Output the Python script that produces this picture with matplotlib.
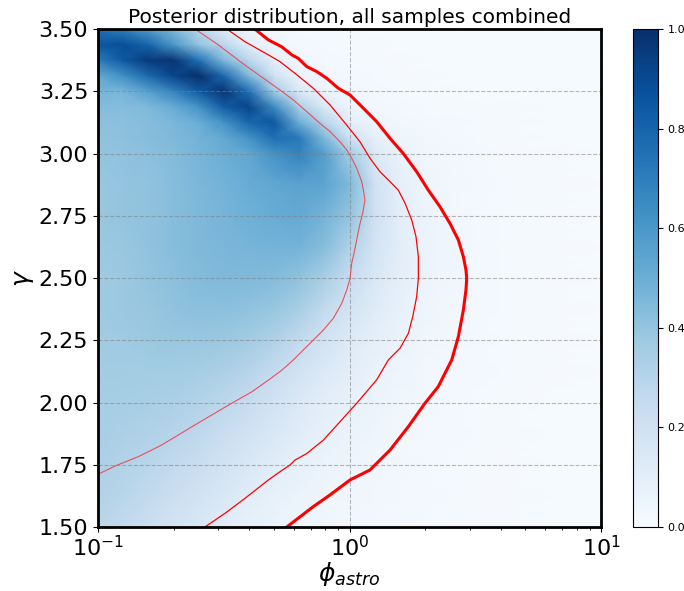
import numpy as np
import matplotlib
matplotlib.use("Agg")
import matplotlib.pyplot as plt

# grid of the posterior map: log10(phi_astro) columns, gamma rows
log_phi = [-1.0, -0.9, -0.8, -0.7, -0.6, -0.5, -0.4, -0.3, -0.2, -0.1,
           0.0, 0.1, 0.2, 0.3, 0.4, 0.5, 0.6, 0.8, 1.0]
gamma = [1.5, 1.625, 1.75, 1.875, 2.0, 2.125, 2.25, 2.375, 2.5, 2.625,
         2.75, 2.875, 3.0, 3.0625, 3.125, 3.1875, 3.25, 3.3125, 3.375,
         3.4375, 3.5]

posterior = [
    [0.29, 0.26, 0.22, 0.18, 0.15, 0.11, 0.08, 0.06, 0.045, 0.035, 0.03, 0.025, 0.02, 0.018, 0.015, 0.013, 0.012, 0.01, 0.01],
    [0.31, 0.29, 0.26, 0.22, 0.19, 0.15, 0.11, 0.08, 0.06, 0.045, 0.036, 0.03, 0.024, 0.02, 0.016, 0.014, 0.012, 0.01, 0.01],
    [0.33, 0.31, 0.29, 0.26, 0.23, 0.19, 0.15, 0.11, 0.08, 0.06, 0.045, 0.036, 0.028, 0.022, 0.018, 0.015, 0.013, 0.01, 0.01],
    [0.34, 0.33, 0.32, 0.30, 0.27, 0.23, 0.19, 0.15, 0.11, 0.08, 0.06, 0.045, 0.035, 0.027, 0.021, 0.017, 0.014, 0.01, 0.01],
    [0.35, 0.35, 0.34, 0.33, 0.31, 0.28, 0.24, 0.19, 0.14, 0.10, 0.075, 0.055, 0.04, 0.03, 0.023, 0.018, 0.015, 0.01, 0.01],
    [0.36, 0.36, 0.36, 0.36, 0.35, 0.33, 0.30, 0.25, 0.19, 0.14, 0.10, 0.07, 0.05, 0.035, 0.026, 0.02, 0.016, 0.012, 0.01],
    [0.37, 0.37, 0.38, 0.39, 0.39, 0.38, 0.36, 0.32, 0.26, 0.19, 0.13, 0.09, 0.06, 0.04, 0.03, 0.022, 0.017, 0.012, 0.01],
    [0.37, 0.38, 0.39, 0.41, 0.42, 0.42, 0.41, 0.39, 0.34, 0.26, 0.18, 0.12, 0.075, 0.048, 0.033, 0.024, 0.018, 0.012, 0.01],
    [0.37, 0.38, 0.40, 0.42, 0.44, 0.45, 0.45, 0.44, 0.41, 0.34, 0.24, 0.15, 0.09, 0.055, 0.036, 0.025, 0.018, 0.012, 0.01],
    [0.38, 0.39, 0.41, 0.43, 0.45, 0.46, 0.47, 0.48, 0.48, 0.43, 0.32, 0.18, 0.10, 0.058, 0.036, 0.025, 0.018, 0.012, 0.01],
    [0.39, 0.40, 0.41, 0.43, 0.45, 0.47, 0.49, 0.51, 0.52, 0.48, 0.40, 0.20, 0.10, 0.055, 0.034, 0.024, 0.017, 0.012, 0.01],
    [0.39, 0.40, 0.41, 0.43, 0.46, 0.48, 0.51, 0.53, 0.55, 0.54, 0.45, 0.20, 0.09, 0.048, 0.03, 0.022, 0.016, 0.012, 0.01],
    [0.40, 0.41, 0.42, 0.44, 0.47, 0.50, 0.53, 0.62, 0.68, 0.57, 0.36, 0.14, 0.07, 0.04, 0.028, 0.02, 0.015, 0.012, 0.01],
    [0.41, 0.415, 0.43, 0.45, 0.48, 0.52, 0.62, 0.76, 0.72, 0.45, 0.20, 0.09, 0.05, 0.032, 0.024, 0.018, 0.014, 0.011, 0.01],
    [0.42, 0.42, 0.43, 0.46, 0.50, 0.62, 0.79, 0.85, 0.50, 0.30, 0.10, 0.05, 0.032, 0.025, 0.02, 0.016, 0.013, 0.011, 0.01],
    [0.44, 0.43, 0.45, 0.51, 0.62, 0.83, 0.92, 0.65, 0.33, 0.14, 0.05, 0.03, 0.022, 0.018, 0.015, 0.013, 0.012, 0.01, 0.01],
    [0.47, 0.47, 0.56, 0.68, 0.84, 0.98, 0.75, 0.36, 0.14, 0.06, 0.03, 0.02, 0.016, 0.014, 0.012, 0.011, 0.01, 0.01, 0.01],
    [0.52, 0.63, 0.78, 0.92, 1.00, 0.78, 0.45, 0.20, 0.06, 0.035, 0.022, 0.016, 0.014, 0.012, 0.011, 0.01, 0.01, 0.01, 0.01],
    [0.71, 0.84, 0.96, 0.98, 0.75, 0.45, 0.28, 0.09, 0.035, 0.022, 0.016, 0.013, 0.012, 0.011, 0.01, 0.01, 0.01, 0.01, 0.01],
    [0.85, 0.88, 0.80, 0.60, 0.40, 0.28, 0.10, 0.04, 0.022, 0.016, 0.013, 0.012, 0.011, 0.01, 0.01, 0.01, 0.01, 0.01, 0.01],
    [0.76, 0.70, 0.58, 0.45, 0.30, 0.12, 0.05, 0.025, 0.017, 0.014, 0.012, 0.011, 0.01, 0.01, 0.01, 0.01, 0.01, 0.01, 0.01],
]

# credible-region outlines (phi_astro, gamma)
inner_phi = [0.102, 0.117, 0.145, 0.179, 0.243, 0.340, 0.409, 0.476, 0.537,
             0.598, 0.655, 0.718, 0.787, 0.862, 0.931, 0.975, 1.005, 1.020,
             1.042, 1.074, 1.101, 1.128, 1.152, 1.135, 1.118, 1.068, 1.020,
             0.975, 0.917, 0.837, 0.763, 0.676, 0.598, 0.529, 0.476, 0.384,
             0.301, 0.243]
inner_gamma = [1.716, 1.745, 1.783, 1.829, 1.910, 1.997, 2.043, 2.090, 2.129,
               2.171, 2.211, 2.251, 2.291, 2.338, 2.398, 2.452, 2.499, 2.559,
               2.599, 2.666, 2.719, 2.760, 2.813, 2.853, 2.887, 2.941, 2.981,
               3.014, 3.047, 3.088, 3.121, 3.168, 3.215, 3.255, 3.288, 3.355,
               3.436, 3.500]

middle_phi = [0.266, 0.320, 0.384, 0.476, 0.529, 0.580, 0.607, 0.676, 0.787,
              0.917, 1.068, 1.282, 1.427, 1.588, 1.714, 1.784, 1.849, 1.878,
              1.878, 1.838, 1.767, 1.663, 1.563, 1.449, 1.322, 1.206, 1.101,
              0.975, 0.837, 0.718, 0.607, 0.529, 0.476, 0.384, 0.325]
middle_gamma = [1.500, 1.555, 1.615, 1.689, 1.722, 1.749, 1.769, 1.795, 1.849,
                1.923, 1.997, 2.091, 2.171, 2.218, 2.278, 2.345, 2.425, 2.499,
                2.586, 2.666, 2.733, 2.800, 2.853, 2.887, 2.927, 2.981, 3.047,
                3.114, 3.195, 3.262, 3.322, 3.369, 3.396, 3.449, 3.500]

outer_phi = [0.563, 0.718, 0.837, 1.005, 1.206, 1.449, 1.713, 1.995, 2.254,
             2.549, 2.708, 2.835, 2.904, 2.924, 2.904, 2.835, 2.708, 2.509,
             2.290, 2.057, 1.849, 1.636, 1.449, 1.282, 1.135, 1.005, 0.903,
             0.812, 0.741, 0.676, 0.626, 0.590, 0.537, 0.476, 0.420]
outer_gamma = [1.500, 1.582, 1.629, 1.689, 1.729, 1.809, 1.903, 1.997, 2.064,
               2.171, 2.264, 2.371, 2.452, 2.499, 2.532, 2.586, 2.653, 2.719,
               2.786, 2.853, 2.927, 3.000, 3.061, 3.128, 3.182, 3.235, 3.262,
               3.302, 3.329, 3.349, 3.382, 3.396, 3.429, 3.456, 3.500]


def main():
    fig = plt.figure(figsize=(6.84, 5.91), dpi=100)
    ax = fig.add_axes([0.1433, 0.1083, 0.7354, 0.8426])
    cax = fig.add_axes([0.9254, 0.1083, 0.0365, 0.8426])

    phi_grid = np.power(10.0, np.array(log_phi))
    mesh = ax.pcolormesh(phi_grid, np.array(gamma), np.array(posterior),
                         cmap="Blues", vmin=0, vmax=1, shading="gouraud",
                         rasterized=True)

    ax.plot(inner_phi, inner_gamma, color="#e8505a", lw=0.8)
    ax.plot(middle_phi, middle_gamma, color="red", lw=0.9)
    ax.plot(outer_phi, outer_gamma, color="red", lw=2.2)

    ax.set_xscale("log")
    ax.set_xlim(0.1, 10)
    ax.set_ylim(1.5, 3.5)
    ax.set_yticks([1.5, 1.75, 2.0, 2.25, 2.5, 2.75, 3.0, 3.25, 3.5])
    ax.set_yticklabels(["1.50", "1.75", "2.00", "2.25", "2.50", "2.75",
                        "3.00", "3.25", "3.50"])
    ax.tick_params(axis="both", which="major", labelsize=16)
    ax.tick_params(axis="x", which="major", pad=2)
    ax.grid(True, which="major", linestyle="--", color="grey", alpha=0.55,
            lw=0.8)
    for spine in ax.spines.values():
        spine.set_linewidth(2)

    ax.set_xlabel(r"$\phi_{astro}$", fontsize=18, labelpad=0)
    ax.set_ylabel(r"$\gamma$", fontsize=18, labelpad=2)
    ax.set_title("Posterior distribution, all samples combined",
                 fontsize=14.5, pad=4)

    cbar = fig.colorbar(mesh, cax=cax)
    cbar.set_ticks([0.0, 0.2, 0.4, 0.6, 0.8, 1.0])
    cbar.ax.tick_params(labelsize=8)
    cbar.outline.set_linewidth(0.8)

    fig.savefig("out.png", dpi=100)


if __name__ == "__main__":
    main()
